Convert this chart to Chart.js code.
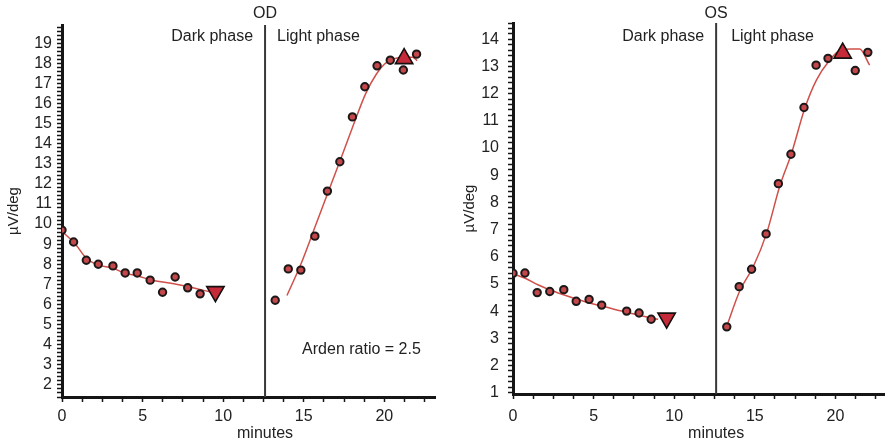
<!DOCTYPE html>
<html><head><meta charset="utf-8">
<script src="https://cdn.jsdelivr.net/npm/chart.js@4.4.0/dist/chart.umd.min.js"></script>
<style>
body{margin:0;background:#fff;width:885px;height:445px;overflow:hidden;position:relative}
#w1{position:absolute;left:0;top:0;width:447px;height:445px}
#w2{position:absolute;left:442px;top:0;width:455px;height:445px}
</style></head>
<body>
<div id="w1"><canvas id="c1" width="447" height="445"></canvas></div>
<div id="w2"><canvas id="c2" width="455" height="445"></canvas></div>
<script>
// ---------- OD (right eye) ----------
const odDarkT  = [0, 0.72, 1.51, 2.25, 3.16, 3.92, 4.67, 5.47, 6.24, 7.02, 7.8, 8.57];
const odDarkV  = [9.7, 9.11, 8.2, 8.0, 7.92, 7.57, 7.57, 7.21, 6.61, 7.37, 6.83, 6.53];
const odLightT = [13.23, 14.04, 14.82, 15.69, 16.47, 17.24, 18.02, 18.79, 19.55, 20.37, 21.18, 22.0];
const odLightV = [6.21, 7.77, 7.71, 9.4, 11.64, 13.1, 15.33, 16.83, 17.87, 18.15, 17.66, 18.45];
const odTroughT = [9.52], odTroughV = [6.64];
const odPeakT   = [21.23], odPeakV = [18.23];
const odDarkFitT  = [0, 0.79, 1.51, 2.23, 3.16, 3.88, 4.71, 5.53, 6.77, 7.8, 8.84, 9.15];
const odDarkFitV  = [9.63, 9.05, 8.3, 7.97, 7.81, 7.56, 7.42, 7.22, 7.06, 6.89, 6.69, 6.64];
const odLightFitT = [13.96, 14.82, 15.65, 16.47, 17.3, 18.0, 18.85, 19.5, 20.0, 20.5, 21.3, 21.75, 22.04];
const odLightFitV = [6.45, 8.0, 9.75, 11.5, 13.25, 14.75, 16.5, 17.45, 17.95, 18.2, 18.3, 18.3, 18.13];

// ---------- OS (left eye) ----------
const osDarkT  = [0, 0.74, 1.5, 2.28, 3.15, 3.92, 4.72, 5.5, 7.05, 7.82, 8.57];
const osDarkV  = [5.39, 5.4, 4.68, 4.72, 4.79, 4.36, 4.43, 4.22, 4.0, 3.93, 3.7];
const osLightT = [13.26, 14.03, 14.8, 15.7, 16.46, 17.24, 18.05, 18.8, 19.54, 21.23, 22.01];
const osLightV = [3.42, 4.9, 5.54, 6.84, 8.69, 9.77, 11.49, 13.05, 13.3, 12.85, 13.52];
const osTroughT = [9.53], osTroughV = [3.74];
const osPeakT   = [20.45], osPeakV = [13.49];
const osDarkFitT  = [0, 0.76, 1.58, 2.61, 3.64, 4.67, 5.7, 6.73, 7.76, 8.69, 9.0];
const osDarkFitV  = [5.37, 5.21, 4.96, 4.71, 4.5, 4.31, 4.16, 4.0, 3.86, 3.73, 3.7];
const osLightFitT = [13.25, 14.07, 14.9, 15.73, 16.55, 17.28, 18.1, 18.82, 19.65, 20.3, 20.99, 21.5, 22.12];
const osLightFitV = [3.43, 4.75, 5.63, 6.86, 8.6, 9.81, 11.46, 12.5, 13.24, 13.6, 13.64, 13.64, 13.05];

// phase boundary (minutes)
const odPhaseT = [12.6];
const osPhaseT = [12.6];

// axis ranges
const odYRange = [1.4, 19.9], odXRange = [0, 23.17];
const osYRange = [0.95, 14.6], osXRange = [0, 23.1];

const FONT = '"Liberation Sans", Arial, Helvetica, sans-serif';
const TXT = '#222';
const AX = '#151515';

function pts(t, v) { return t.map((x, i) => ({x: x, y: v[i]})); }

function panel(canvasId, o) {
  const [ymin, ymax] = o.yRange;
  const [xmin, xmax] = o.xRange;
  const phase = o.phase[0];
  const annot = {
    id: 'annot',
    afterDraw(chart) {
      const ctx = chart.ctx, xs = chart.scales.x, ys = chart.scales.y;
      const vx = xs.getPixelForValue(phase);
      ctx.save();
      ctx.fillStyle = TXT;
      ctx.font = '16px ' + FONT;
      ctx.textBaseline = 'middle';
      ctx.textAlign = 'center';
      ctx.fillText(o.title, vx, 14);
      ctx.fillText('minutes', vx, 434);
      ctx.textAlign = 'right';
      ctx.fillText('Dark phase', vx - 12, 37);
      ctx.textAlign = 'left';
      ctx.fillText('Light phase', vx + o.lightGap, 37);
      if (o.note) {
        ctx.fillText(o.note.text, xs.getPixelForValue(o.note.t), ys.getPixelForValue(o.note.v));
      }
      ctx.restore();
    }
  };
  const dotStyle = {pointRadius: 3.7, pointBorderWidth: 2, pointBorderColor: '#1c1818', pointBackgroundColor: '#c4474b', showLine: false};
  const triStyle = {pointStyle: 'triangle', pointRadius: 10, pointBorderWidth: 1.6, pointBorderColor: '#141010', pointBackgroundColor: '#c62a39', showLine: false};
  const fitStyle = {showLine: true, pointRadius: 0, borderColor: '#d0504a', borderWidth: 1.5, cubicInterpolationMode: 'monotone', fill: false};
  return new Chart(document.getElementById(canvasId), {
    type: 'scatter',
    data: {
      datasets: [
        Object.assign({data: pts(o.peakT, o.peakV)}, triStyle),
        Object.assign({data: pts(o.troughT, o.troughV), pointRotation: 180}, triStyle),
        Object.assign({data: pts(o.darkT, o.darkV)}, dotStyle),
        Object.assign({data: pts(o.lightT, o.lightV)}, dotStyle),
        Object.assign({data: pts(o.darkFitT, o.darkFitV)}, fitStyle),
        Object.assign({data: pts(o.lightFitT, o.lightFitV)}, fitStyle),
        {data: [{x: phase, y: ymin}, {x: phase, y: ymax}], showLine: true, pointRadius: 0, borderColor: '#383838', borderWidth: 2}
      ]
    },
    options: {
      responsive: false,
      animation: false,
      events: [],
      layout: {padding: o.pad},
      plugins: {legend: {display: false}, tooltip: {enabled: false}, title: {display: false}},
      scales: {
        x: {
          type: 'linear', min: xmin, max: xmax,
          border: {display: true, color: AX, width: 3},
          grid: {display: true, drawOnChartArea: false, drawTicks: true, tickLength: 5, tickWidth: 1.5, tickColor: AX},
          ticks: {
            stepSize: 1.25, autoSkip: false, includeBounds: false, maxRotation: 0, padding: o.xPad, color: TXT,
            font: {family: FONT, size: 16},
            callback: (v) => {
              const k = v / 1.25;
              if (Math.abs(k - Math.round(k)) > 1e-6) return null;
              const m = v / 5;
              return Math.abs(m - Math.round(m)) < 1e-6 ? String(Math.round(v)) : '';
            }
          },
          afterFit: (s) => { s.height = o.xH; }
        },
        y: {
          type: 'linear', min: ymin, max: ymax,
          border: {display: true, color: AX, width: 3},
          grid: {display: true, drawOnChartArea: false, drawTicks: true, tickLength: 5, tickWidth: 1.5, tickColor: AX},
          title: {display: true, text: 'µV/deg', color: TXT, font: {family: FONT, size: 15}, padding: {top: o.yTitlePad, bottom: 0}},
          ticks: {
            stepSize: 0.2, autoSkip: false, includeBounds: false, padding: o.yPad, color: TXT,
            font: {family: FONT, size: 16},
            callback: (v) => {
              const k = v / 0.2;
              if (Math.abs(k - Math.round(k)) > 1e-6) return null;
              return Math.abs(v - Math.round(v)) < 1e-6 ? String(Math.round(v)) : '';
            }
          },
          afterFit: (s) => { s.width = o.yW; }
        }
      }
    },
    plugins: [annot]
  });
}

panel('c1', {
  title: 'OD', phase: odPhaseT, yRange: odYRange, xRange: odXRange,
  darkT: odDarkT, darkV: odDarkV, lightT: odLightT, lightV: odLightV,
  troughT: odTroughT, troughV: odTroughV, peakT: odPeakT, peakV: odPeakV,
  darkFitT: odDarkFitT, darkFitV: odDarkFitV, lightFitT: odLightFitT, lightFitV: odLightFitV,
  pad: {top: 25, right: 0, left: 0, bottom: 0}, xH: 48, yW: 62, xPad: 5, yPad: 5, yTitlePad: 5, lightGap: 12,
  note: {text: 'Arden ratio = 2.5', t: 14.9, v: 3.75}
});
panel('c2', {
  title: 'OS', phase: osPhaseT, yRange: osYRange, xRange: osXRange,
  darkT: osDarkT, darkV: osDarkV, lightT: osLightT, lightV: osLightV,
  troughT: osTroughT, troughV: osTroughV, peakT: osPeakT, peakV: osPeakV,
  darkFitT: osDarkFitT, darkFitV: osDarkFitV, lightFitT: osLightFitT, lightFitV: osLightFitV,
  pad: {top: 23, right: 0, left: 0, bottom: 0}, xH: 51, yW: 71, xPad: 8, yPad: 9, yTitlePad: 19, lightGap: 15,
  note: null
});
</script>
</body></html>
